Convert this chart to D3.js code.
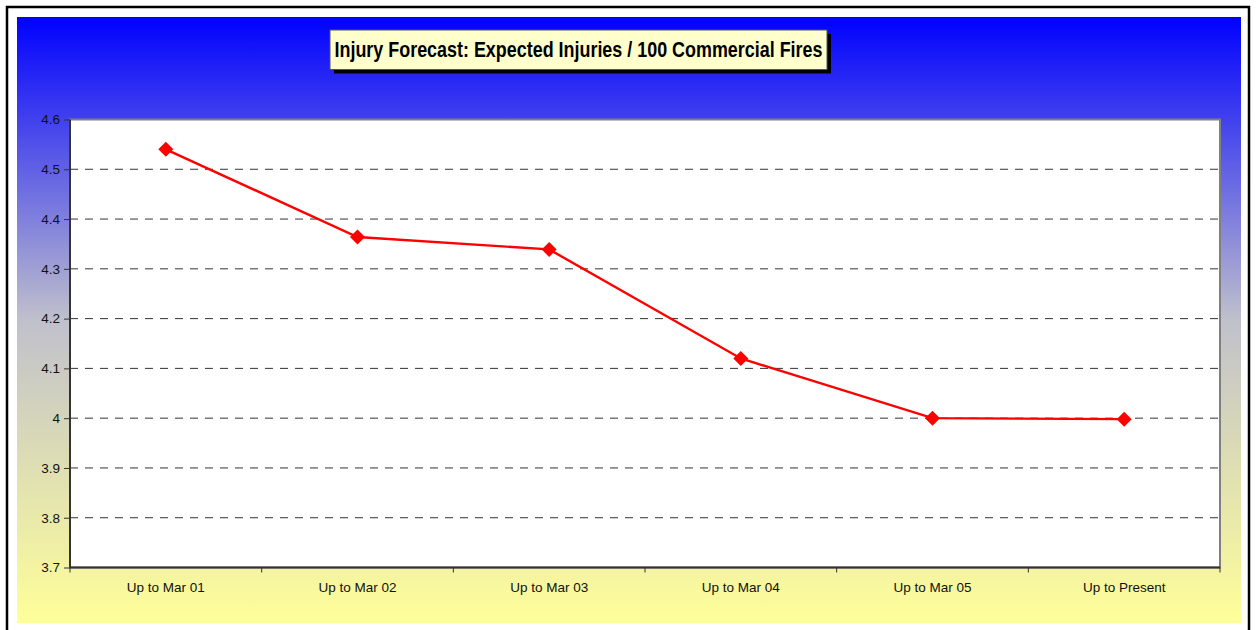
<!DOCTYPE html>
<html><head><meta charset="utf-8">
<script src="https://cdn.jsdelivr.net/npm/d3@7"></script>
<style>html,body{margin:0;padding:0;background:#fff;}svg{display:block;}</style>
</head><body>
<script>
const title = "Injury Forecast: Expected Injuries / 100 Commercial Fires";
const categories = ["Up to Mar 01","Up to Mar 02","Up to Mar 03","Up to Mar 04","Up to Mar 05","Up to Present"];
const values = [4.54, 4.364, 4.339, 4.12, 4.0, 3.998];
const yTicks = [3.7, 3.8, 3.9, 4.0, 4.1, 4.2, 4.3, 4.4, 4.5, 4.6];

const W = 1258, H = 630;
const svg = d3.select("body").append("svg").attr("width", W).attr("height", H);
const defs = svg.append("defs");
const grad = defs.append("linearGradient").attr("id","bg").attr("x1",0).attr("y1",0).attr("x2",0).attr("y2",1);
grad.append("stop").attr("offset","0%").attr("stop-color","#0000ff");
grad.append("stop").attr("offset","50%").attr("stop-color","#c0c0cc");
grad.append("stop").attr("offset","100%").attr("stop-color","#ffff99");

// outer frame
svg.append("rect").attr("x",7).attr("y",7).attr("width",1242).attr("height",640)
  .attr("fill","#fff").attr("stroke","#000").attr("stroke-width",2.5);
svg.append("rect").attr("x",17).attr("y",17).attr("width",1224).attr("height",606).attr("fill","url(#bg)");

const m = {l:70, t:119.5, r:1220, b:567.5};
const x = d3.scaleBand().domain(categories).range([m.l, m.r]);
const y = d3.scaleLinear().domain([3.7, 4.6]).range([m.b, m.t]);
const FONT = "Liberation Sans, Arial, sans-serif";

// plot area
svg.append("rect").attr("x",m.l).attr("y",m.t).attr("width",m.r-m.l).attr("height",m.b-m.t)
  .attr("fill","#fff").attr("stroke","#808080").attr("stroke-width",2);

// gridlines
svg.append("g").selectAll("line").data(yTicks.filter(v => v > 3.7 && v < 4.6)).join("line")
  .attr("x1",m.l).attr("x2",m.r).attr("y1",d=>y(d)).attr("y2",d=>y(d))
  .attr("stroke","#333").attr("stroke-width",1).attr("stroke-dasharray","8,7");

// y axis
const yAxis = svg.append("g").attr("transform",`translate(${m.l},0)`)
  .call(d3.axisLeft(y).tickValues(yTicks).tickSize(6).tickPadding(4).tickFormat(d3.format("~g")));
yAxis.select(".domain").attr("stroke","#333").attr("stroke-width",2).attr("d",`M0,${m.t}V${m.b}`);
yAxis.selectAll(".tick line").attr("stroke","#333");
yAxis.selectAll("text").attr("font-family",FONT).attr("font-size","13.5px").attr("fill","#111");

// x axis
const xAxis = svg.append("g").attr("transform",`translate(0,${m.b})`)
  .call(d3.axisBottom(x).tickSize(0).tickPadding(15));
xAxis.select(".domain").attr("stroke","#333").attr("stroke-width",2).attr("d",`M${m.l},0H${m.r}`);
xAxis.selectAll("text").attr("font-family",FONT).attr("font-size","13.5px").attr("fill","#111");
const bounds = d3.range(categories.length + 1).map(i => m.l + i * x.step());
xAxis.append("g").selectAll("line").data(bounds).join("line")
  .attr("x1",d=>d).attr("x2",d=>d).attr("y1",0).attr("y2",5).attr("stroke","#333").attr("stroke-width",1);

// line
const cx = d => x(d) + x.bandwidth()/2;
svg.append("path").datum(values)
  .attr("d", d3.line().x((d,i)=>cx(categories[i])).y(d=>y(d)))
  .attr("fill","none").attr("stroke","#ff0000").attr("stroke-width",2.4);
svg.append("g").selectAll("path").data(values).join("path")
  .attr("transform",(d,i)=>`translate(${cx(categories[i])},${y(d)})`)
  .attr("d","M0,-7.5L7.5,0L0,7.5L-7.5,0Z").attr("fill","#ff0000");

// title
const tg = svg.append("g");
const shadow = tg.append("rect").attr("fill","#000");
const box = tg.append("rect").attr("fill","#ffffcc").attr("stroke","#555").attr("stroke-width",1);
const tt = tg.append("text").attr("x",578.5).attr("y",56.5).attr("text-anchor","middle")
  .attr("font-family",FONT).attr("font-weight","bold").attr("font-size","21.5px").attr("fill","#000")
  .text(title);
const bx=330, by=30, bw=497, bh=39.5;
box.attr("x",bx).attr("y",by).attr("width",bw).attr("height",bh);
shadow.attr("x",bx+4).attr("y",by+4).attr("width",bw).attr("height",bh);
const tl = tt.node().getComputedTextLength();
if (tl > bw - 8) tt.attr("textLength", bw - 9).attr("lengthAdjust","spacingAndGlyphs");
</script>
</body></html>
